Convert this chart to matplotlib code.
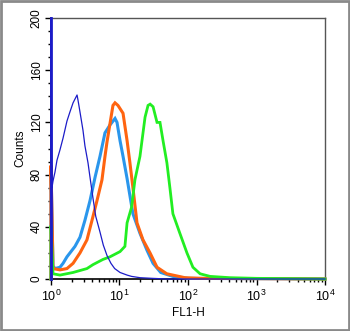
import matplotlib
matplotlib.use("Agg")
import matplotlib.pyplot as plt
from matplotlib.patches import Rectangle
from matplotlib.ticker import LogLocator, MultipleLocator

plt.rcParams['font.family'] = ['Liberation Sans', 'DejaVu Sans']
plt.rcParams['mathtext.default'] = 'regular'

# FL1-H channel values and counts
dark_x = [1.0, 1.0, 1.034, 1.07, 1.144, 1.223, 1.353, 1.5, 1.71, 1.89, 2.1, 2.4, 2.48, 2.65, 2.93,
          3.13, 3.47, 3.71, 4.1, 4.5, 5.19, 5.8, 6.57, 7.5, 8.5, 10.18, 12.9, 15.0, 19.9, 30.0, 50.0, 10000.0]
dark_y = [0, 200, 70, 75, 82, 91, 99, 108, 121, 128, 135, 141, 137, 128, 114,
          102, 89, 78, 62, 48, 36, 26, 18, 12, 8, 5, 3, 2, 1, 0.5, 0, 0]

light_x = [1.0, 1.0, 1.07, 1.144, 1.353, 1.5, 1.71, 2.24, 2.65, 3.13, 3.71, 4.4, 5.19, 6.14, 7.26, 8.6,
           9.2, 10.18, 11.26, 12.9, 15.7, 19.9, 25.2, 30.9, 40.0, 60.0, 100.0, 10000.0]
light_y = [0, 85, 10, 8, 9, 12, 17, 25, 32, 45, 60, 78, 94, 112, 118, 123,
           120, 106, 94, 77, 50, 35, 22, 12, 5, 2, 0.5, 0]

orange_x = [1.0, 1.0, 1.07, 1.353, 1.71, 2.1, 2.65, 3.35, 3.97, 4.69, 5.55, 6.14, 6.57, 7.26, 8.03, 8.6,
            9.5, 11.26, 12.9, 14.2, 15.7, 18.0, 22.0, 27.9, 35.3, 49.0, 90.0, 150.0, 10000.0]
orange_y = [0, 87, 8, 7, 8, 12, 20, 30, 45, 60, 76, 94, 105, 119, 133, 135,
            133, 127, 106, 89, 70, 43, 30, 20, 9, 4, 1, 0.5, 0]

green_x = [1.0, 1.0, 1.07, 1.353, 2.1, 3.35, 4.1, 5.74, 7.26, 10.18, 12.0, 12.9, 15.0, 16.8, 19.9, 21.3,
           23.6, 26.1, 28.0, 30.9, 35.3, 39.0, 43.2, 49.2, 54.4, 60.2, 76.1, 96.5, 118.0, 150.0, 210.0,
           410.0, 1000.0, 10000.0]
green_y = [0, 41, 4, 3, 5, 8, 11, 15, 17, 21, 25, 43, 55, 76, 94, 106,
           124, 133, 134, 132, 120, 120, 106, 89, 70, 50, 35, 20, 9, 4, 2,
           1, 0.5, 0]

y_ticks = [0, 40, 80, 120, 160, 200]

fig = plt.figure(figsize=(3.5, 3.31), dpi=100)
ax = fig.add_axes([0.1457, 0.1571, 0.7829, 0.7885])

ax.plot(light_x, light_y, color='#2a96ec', lw=2.2, solid_joinstyle='miter', zorder=3, clip_on=False)
ax.plot(orange_x, orange_y, color='#ff6410', lw=2.2, solid_joinstyle='miter', zorder=4, clip_on=False)
ax.plot(green_x, green_y, color='#22ee22', lw=2.0, solid_joinstyle='miter', zorder=5, clip_on=False)
ax.plot(dark_x, dark_y, color='#1c1cc8', lw=0.9, zorder=6, clip_on=False)
# thicker dark-blue first bin along the axis
ax.plot(dark_x[:2], dark_y[:2], color='#1c1cc8', lw=2.0, zorder=6, clip_on=False)

ax.set_xscale('log')
ax.set_xlim(1, 10000)
ax.set_ylim(0, 200)
ax.set_yticks(y_ticks)
ax.set_yticklabels([str(t) for t in y_ticks], rotation=90, va='center')
ax.yaxis.set_minor_locator(MultipleLocator(10))
ax.xaxis.set_major_locator(LogLocator(base=10, numticks=10))
ax.xaxis.set_minor_locator(LogLocator(base=10, subs=range(2, 10), numticks=50))

ax.tick_params(axis='both', which='major', direction='out', length=4, width=1, labelsize=8.5, pad=2)
ax.tick_params(axis='both', which='minor', direction='out', length=2.5, width=1)
ax.tick_params(axis='x', labelsize=9, pad=3)

for s in ['left', 'bottom']:
    ax.spines[s].set_color('black')
    ax.spines[s].set_linewidth(1.2)
for s in ['top', 'right']:
    ax.spines[s].set_color('#555555')
    ax.spines[s].set_linewidth(1.0)

ax.set_xlabel('FL1-H', fontsize=8.5, labelpad=2)
ax.set_ylabel('Counts', fontsize=8.5, labelpad=3)

fig.patches.append(Rectangle((0.003, 0.003), 0.994, 0.994, transform=fig.transFigure,
                             fill=False, edgecolor='#8a8a8a', lw=2))

fig.savefig('out.png', dpi=100)
